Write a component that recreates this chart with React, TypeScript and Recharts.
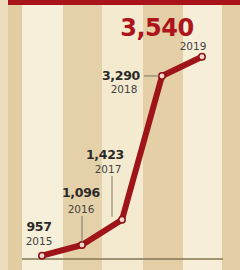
import React from "react";
import { LineChart, Line, XAxis, YAxis, LabelList, ReferenceLine } from "recharts";

const years = [2015, 2016, 2017, 2018, 2019];
const riders = [957, 1096, 1423, 3290, 3540];
const valueLabels = ["957", "1,096", "1,423", "3,290", "3,540"];

const data = years.map((year, i) => ({ year, value: riders[i], label: valueLabels[i] }));

// where each label sits relative to its point
const labelPos = [
  { vx: -3, vy: -25, yx: -3, yy: -11 },
  { vx: -1, vy: -48, yx: -1, yy: -32, lead: { x1: 0, y1: -29, x2: 0, y2: -3 } },
  { vx: -17, vy: -61, yx: -14, yy: -47, lead: { x1: -10, y1: -44, x2: -10, y2: -3 } },
  { vx: -41, vy: 4, yx: -38, yy: 17, lead: { x1: -18, y1: 0, x2: -3, y2: 0 } },
  { vx: -45, vy: -21, yx: -9, yy: -7, big: true },
];

const font = "'DejaVu Sans', sans-serif";

function PointLabel(props: any) {
  const { x, y, index } = props;
  const p = labelPos[index];
  const d = data[index];
  return (
    <g>
      {p.lead && (
        <line
          x1={x + p.lead.x1}
          y1={y + p.lead.y1}
          x2={x + p.lead.x2}
          y2={y + p.lead.y2}
          stroke="#7a7468"
          strokeWidth={1}
        />
      )}
      <text
        x={x + p.vx}
        y={y + p.vy}
        textAnchor="middle"
        fontFamily={font}
        fontWeight="bold"
        fontSize={p.big ? 24 : 12.5}
        fill={p.big ? "#ad141c" : "#2b2a28"}
        letterSpacing={p.big ? -0.5 : -0.3}
      >
        {d.label}
      </text>
      <text
        x={x + p.yx}
        y={y + p.yy}
        textAnchor="middle"
        fontFamily={font}
        fontSize={10.5}
        fill="#45433f"
      >
        {d.year}
      </text>
    </g>
  );
}

export default function App() {
  return (
    <div
      style={{
        position: "absolute",
        left: 0,
        top: 0,
        width: 240,
        height: 270,
        background:
          "linear-gradient(to right, #eadcbc 0 8px, #e3cda3 8px 22px, #f6efd9 22px 63px, #e5d1a9 63px 102px, #f3ead0 102px 143px, #e4cfa6 143px 183px, #f6eed6 183px 222px, #e3cea5 222px 240px)",
      }}
    >
      <div
        style={{ position: "absolute", left: 8, top: 0, width: 232, height: 5, background: "#a8141a" }}
      />
      <LineChart
        width={240}
        height={270}
        data={data}
        margin={{ top: 40, right: 17, bottom: 11, left: 22 }}
        style={{ position: "absolute", left: 0, top: 0 }}
      >
        <XAxis
          dataKey="year"
          type="number"
          domain={[2014.5, 2019.525]}
          height={0}
          tick={false}
          tickLine={false}
          axisLine={false}
        />
        <YAxis hide domain={[914, 3757]} />
        <ReferenceLine y={914} stroke="#857655" strokeWidth={1.5} />
        <Line
          type="linear"
          dataKey="value"
          stroke="#9e1419"
          strokeWidth={6}
          strokeLinejoin="round"
          strokeLinecap="round"
          dot={{ r: 3.2, fill: "#f3d6cc", stroke: "#8e1015", strokeWidth: 1.5 }}
          isAnimationActive={false}
        >
          <LabelList dataKey="value" content={<PointLabel />} />
        </Line>
      </LineChart>
    </div>
  );
}
